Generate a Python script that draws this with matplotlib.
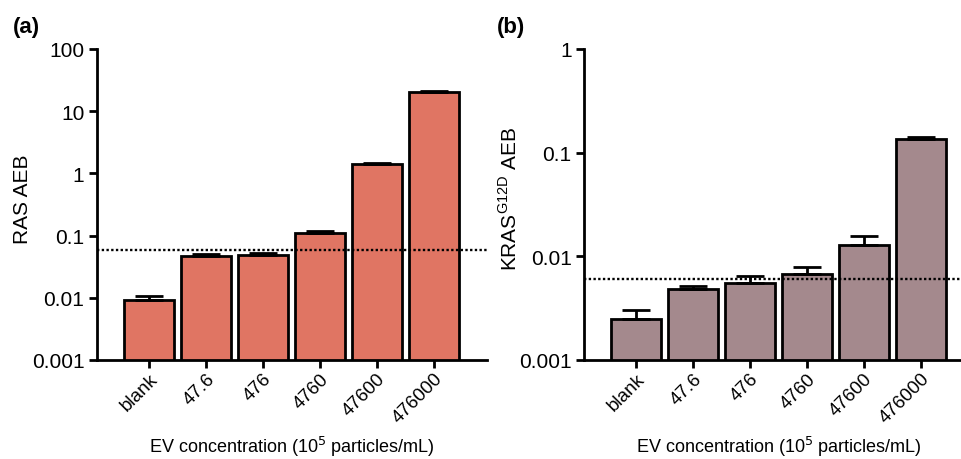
import numpy as np
import matplotlib
matplotlib.use("Agg")
import matplotlib.pyplot as plt
from matplotlib.ticker import FixedLocator, NullLocator

plt.rcParams['font.family'] = ['Liberation Sans', 'DejaVu Sans']

categories = ["blank", "47.6", "476", "4760", "47600", "476000"]

# panel (a) RAS AEB
ras_mean = [0.0093, 0.0476, 0.049, 0.11, 1.40, 20.0]
ras_err = [0.0012, 0.0035, 0.004, 0.01, 0.09, 1.0]
ras_cutoff = 0.059

# panel (b) KRAS G12D AEB
kras_mean = [0.0025, 0.0048, 0.0055, 0.0068, 0.0130, 0.135]
kras_err = [0.00055, 0.0004, 0.0009, 0.0011, 0.0027, 0.006]
kras_cutoff = 0.006

fig = plt.figure(figsize=(9.62, 4.6), dpi=100)
ax1 = fig.add_axes([97/962, 1-361/460, 390/962, 311/460])
ax2 = fig.add_axes([584/962, 1-361/460, 390/962, 311/460])


def panel(ax, vals, errs, cutoff, color, ylim, yticks, yticklabels, ylabel):
    x = np.arange(len(categories))
    ax.bar(x, vals, width=0.88, color=color, edgecolor="black", linewidth=2,
           zorder=2)
    ax.errorbar(x, vals, yerr=[np.zeros(len(errs)), errs], fmt="none",
                ecolor="black", elinewidth=2, capsize=10, capthick=2, zorder=3)
    ax.axhline(cutoff, color="black", linestyle=(0, (1, 1.0)), linewidth=1.7,
               zorder=4)
    ax.set_yscale("log")
    ax.set_ylim(*ylim)
    ax.set_xlim(-0.91, 5.93)
    ax.yaxis.set_major_locator(FixedLocator(yticks))
    ax.yaxis.set_minor_locator(NullLocator())
    ax.set_yticklabels(yticklabels, fontsize=15)
    ax.set_xticks(x)
    ax.set_xticklabels(categories, rotation=45, ha="right",
                       rotation_mode="anchor", fontsize=13.5)
    ax.tick_params(axis="both", width=2, length=6, pad=3)
    ax.tick_params(axis="x", pad=1)
    for s in ["top", "right"]:
        ax.spines[s].set_visible(False)
    for s in ["left", "bottom"]:
        ax.spines[s].set_linewidth(2)
    ax.set_ylabel(ylabel, fontsize=15, va="center")
    ax.yaxis.set_label_coords(-0.19, 0.52)
    ax.set_xlabel("EV concentration (10$^5$ particles/mL)", fontsize=13,
                  va="center")
    ax.xaxis.set_label_coords(0.5, -0.275)


panel(ax1, ras_mean, ras_err, ras_cutoff, "#E07563", (0.001, 100),
      [0.001, 0.01, 0.1, 1, 10, 100],
      ["0.001", "0.01", "0.1", "1", "10", "100"], "RAS AEB")
panel(ax2, kras_mean, kras_err, kras_cutoff, "#A4898D", (0.001, 1),
      [0.001, 0.01, 0.1, 1],
      ["0.001", "0.01", "0.1", "1"], "KRAS$^{\\mathregular{G12D}}$ AEB")

fig.text(13/962, 1-27/460, "(a)", fontsize=16, fontweight="bold",
         va="center")
fig.text(497/962, 1-27/460, "(b)", fontsize=16, fontweight="bold",
         va="center")

fig.savefig("out.png", dpi=100)
